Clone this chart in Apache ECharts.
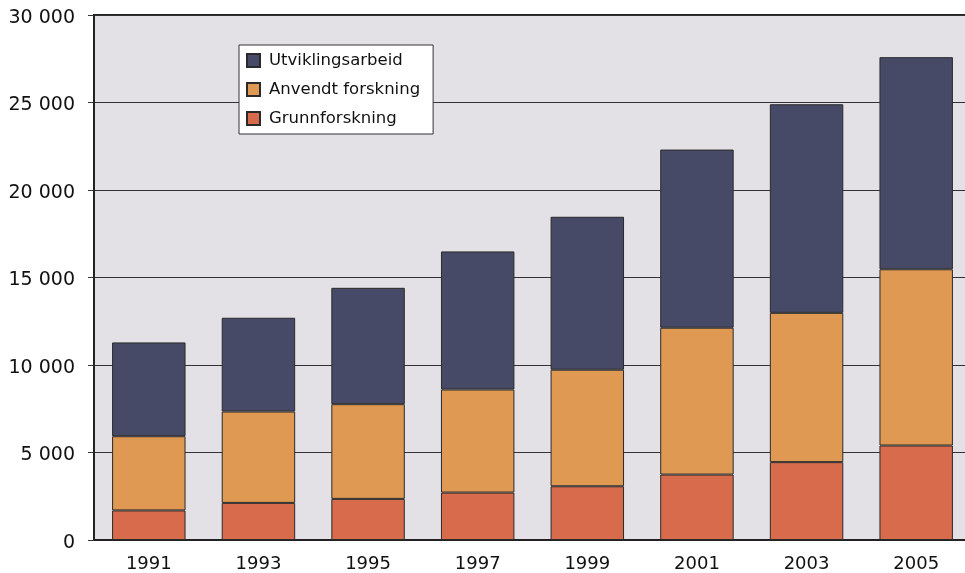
<!DOCTYPE html>
<html>
<head>
<meta charset="utf-8">
<script src="https://cdn.jsdelivr.net/npm/echarts@6/dist/echarts.min.js"></script>
<style>
  html, body { margin: 0; padding: 0; background: #fff; }
  #chart { width: 965px; height: 573px; }
</style>
</head>
<body>
<div id="chart"></div>
<script>
// years on the x axis
var years = ['1991', '1993', '1995', '1997', '1999', '2001', '2003', '2005'];
// stacked segments, bottom to top
var grunnforskning   = [1690, 2120, 2350, 2710, 3070, 3740, 4450, 5400];
var anvendt          = [4240, 5220, 5410, 5890, 6660, 8390, 8530, 10070];
var utviklingsarbeid = [5360, 5360, 6650, 7890, 8740, 10180, 11920, 12120];

var myChart = echarts.init(document.getElementById('chart'));
var font = 'DejaVu Sans';

function fmt(v) {
  // space as thousands separator, label sits a bit below its gridline
  return '{a|' + String(v).replace(/\B(?=(\d{3})+(?!\d))/g, ' ') + '}';
}

var option = {
  animation: false,
  textStyle: { fontFamily: font },
  grid: {
    // plot runs a little past the right edge of the picture
    left: 94, width: 877, top: 15, bottom: 33,
    outerBoundsMode: 'none',
    show: true,
    backgroundColor: '#e3e1e6',
    borderColor: '#222',
    borderWidth: 2
  },
  legend: {
    orient: 'vertical',
    left: 239, top: 45,
    data: ['Utviklingsarbeid', 'Anvendt forskning', 'Grunnforskning'],
    icon: 'rect',
    backgroundColor: '#fff',
    borderColor: '#333',
    borderWidth: 1,
    padding: [7, 13, 7, 7],
    itemWidth: 13,
    itemHeight: 13,
    itemGap: 12,
    textStyle: { fontFamily: font, fontSize: 16.5, color: '#111', padding: [0, 0, 0, 4] }
  },
  xAxis: {
    type: 'category',
    data: years,
    axisLine: { lineStyle: { color: '#222', width: 2 } },
    axisTick: { show: false },
    axisLabel: { fontFamily: font, fontSize: 18, color: '#111', margin: 15 }
  },
  yAxis: {
    type: 'value',
    min: 0, max: 30000, interval: 5000,
    axisLine: { show: true, lineStyle: { color: '#222', width: 2 } },
    axisTick: { show: true, length: 6, lineStyle: { color: '#333' } },
    splitLine: { lineStyle: { color: '#333', width: 1 } },
    axisLabel: {
      fontFamily: font, fontSize: 19, color: '#111', margin: 19,
      formatter: fmt,
      rich: { a: { fontFamily: font, fontSize: 19, color: '#111', padding: [6, 0, 0, 0] } }
    }
  },
  series: [
    {
      name: 'Grunnforskning', type: 'bar', stack: 'a', barWidth: '67%',
      itemStyle: { color: '#d86b4b', borderColor: '#2a2a2a', borderWidth: 1 },
      data: grunnforskning
    },
    {
      name: 'Anvendt forskning', type: 'bar', stack: 'a', barWidth: '67%',
      itemStyle: { color: '#df9952', borderColor: '#2a2a2a', borderWidth: 1 },
      data: anvendt
    },
    {
      name: 'Utviklingsarbeid', type: 'bar', stack: 'a', barWidth: '67%',
      itemStyle: { color: '#464a67', borderColor: '#2a2a2a', borderWidth: 1 },
      data: utviklingsarbeid
    }
  ]
};

option && myChart.setOption(option);
</script>
</body>
</html>
